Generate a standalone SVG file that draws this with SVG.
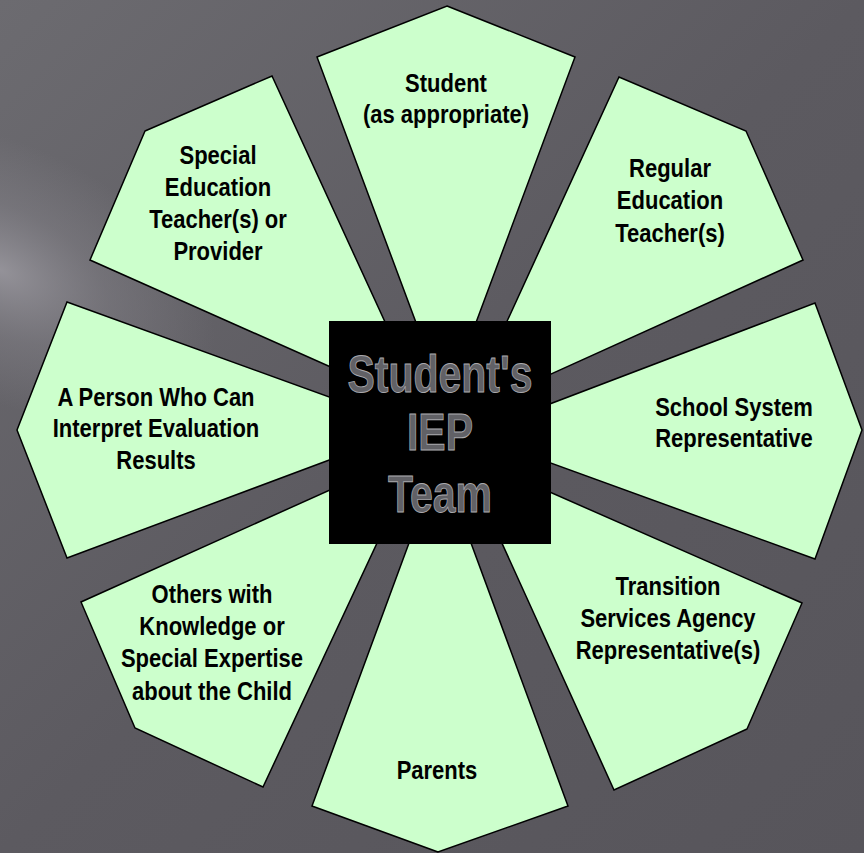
<svg xmlns="http://www.w3.org/2000/svg" width="864" height="853" viewBox="0 0 864 853">
  <defs>
    <linearGradient id="bg" x1="0" y1="0" x2="1" y2="1">
      <stop offset="0" stop-color="#6c6b70"/>
      <stop offset="0.5" stop-color="#5c5a60"/>
      <stop offset="1" stop-color="#57555b"/>
    </linearGradient>
    <radialGradient id="hl" cx="0" cy="270" r="230" gradientUnits="userSpaceOnUse" gradientTransform="translate(0 270) rotate(25) scale(1 0.55) translate(0 -270)">
      <stop offset="0" stop-color="#a3a1a8" stop-opacity="0.75"/>
      <stop offset="0.5" stop-color="#8e8c93" stop-opacity="0.35"/>
      <stop offset="1" stop-color="#8e8c93" stop-opacity="0"/>
    </radialGradient>
    <style>
      .petal { fill: #ccffcc; stroke: #000; stroke-width: 1.5; stroke-linejoin: miter; }
      .lbl { font-family: "Liberation Sans", Arial, sans-serif; font-weight: bold; font-size: 22px; text-anchor: middle; fill: #000; }
      .core { font-family: "Liberation Sans", Arial, sans-serif; font-weight: bold; font-size: 41px; text-anchor: middle; fill: #616166; stroke: #a9a9ad; stroke-width: 0.7; }
    </style>
  </defs>

  <rect x="0" y="0" width="864" height="853" fill="url(#bg)"/>
  <rect x="0" y="0" width="864" height="853" fill="url(#hl)"/>

  <g id="connectors"/>

  <g id="node-student">
    <polygon class="petal" points="447,6 575,57 446,403 317,57"/>
    <text class="lbl" transform="translate(446 92) scale(1 1.14)"><tspan x="0" y="0">Student</tspan><tspan x="0" dy="27">(as appropriate)</tspan></text>
  </g>

  <g id="node-regular">
    <polygon class="petal" points="746,131 803,260 465,413 619,77"/>
    <text class="lbl" transform="translate(670 177) scale(1 1.14)"><tspan x="0" y="0">Regular</tspan><tspan x="0" dy="28.5">Education</tspan><tspan x="0" dy="28.5">Teacher(s)</tspan></text>
  </g>

  <g id="node-school">
    <polygon class="petal" points="862,430 815,559 471,434 815,303"/>
    <text class="lbl" transform="translate(734 416) scale(1 1.14)"><tspan x="0" y="0">School System</tspan><tspan x="0" dy="27">Representative</tspan></text>
  </g>

  <g id="node-transition">
    <polygon class="petal" points="747,729 614,790 461,453 802,603"/>
    <text class="lbl" transform="translate(668 595) scale(1 1.14)"><tspan x="0" y="0">Transition</tspan><tspan x="0" dy="28">Services Agency</tspan><tspan x="0" dy="28.5">Representative(s)</tspan></text>
  </g>

  <g id="node-parents">
    <polygon class="petal" points="438,852 312,806 440,459 568,806"/>
    <text class="lbl" transform="translate(437 779) scale(1 1.14)"><tspan x="0" y="0">Parents</tspan></text>
  </g>

  <g id="node-others">
    <polygon class="petal" points="135,728 81,602 421,449 263,787"/>
    <text class="lbl" transform="translate(212 603) scale(1 1.14)"><tspan x="0" y="0">Others with</tspan><tspan x="0" dy="28">Knowledge or</tspan><tspan x="0" dy="28.5">Special Expertise</tspan><tspan x="0" dy="28.5">about the Child</tspan></text>
  </g>

  <g id="node-evaluation">
    <polygon class="petal" points="17,430 67,302 415,428 67,558"/>
    <text class="lbl" transform="translate(156 406) scale(1 1.14)"><tspan x="0" y="0">A Person Who Can</tspan><tspan x="0" dy="27.5">Interpret Evaluation</tspan><tspan x="0" dy="27.5">Results</tspan></text>
  </g>

  <g id="node-special-ed">
    <polygon class="petal" points="145,131 272,76 425,409 90,260"/>
    <text class="lbl" transform="translate(218 164) scale(1 1.14)"><tspan x="0" y="0">Special</tspan><tspan x="0" dy="28">Education</tspan><tspan x="0" dy="28">Teacher(s) or</tspan><tspan x="0" dy="28">Provider</tspan></text>
  </g>

  <g id="node-team">
    <rect x="329" y="321" width="222" height="223" fill="#000"/>
    <text class="core" transform="translate(440 392) scale(1 1.25)"><tspan x="0" y="0">Student's</tspan><tspan x="0" dy="46.5">IEP</tspan><tspan x="0" dy="49.5">Team</tspan></text>
  </g>
</svg>
